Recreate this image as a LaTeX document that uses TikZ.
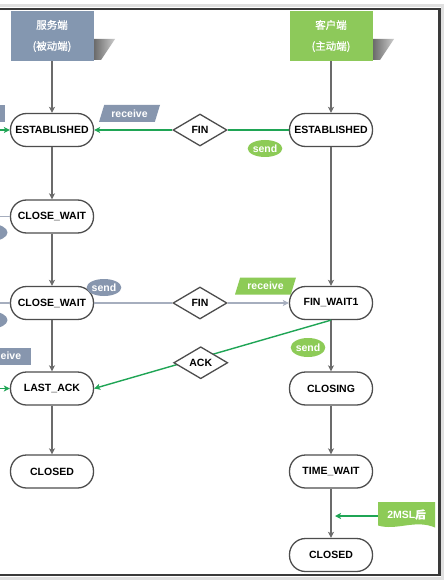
\documentclass[tikz,border=0pt]{standalone}
\usepackage{fontspec}
\setmainfont{Liberation Sans}
\newfontfamily\cjk{Noto Sans CJK SC}
\newfontfamily\cjkb{Noto Sans CJK SC}[FakeBold=1.2]
\usetikzlibrary{shapes.geometric,arrows.meta}
\definecolor{stroke}{HTML}{4D4D4D}
\definecolor{arrowgray}{HTML}{6B6B6B}
\definecolor{headgray}{HTML}{8497B0}
\definecolor{headgreen}{HTML}{8DC95A}
\definecolor{taggray}{HTML}{8796AE}
\definecolor{taggreen}{HTML}{8DCB57}
\definecolor{greenline}{HTML}{1FA555}
\definecolor{lightline}{HTML}{A6AEBE}
\definecolor{framecol}{HTML}{3A3A3A}
\tikzset{
  state/.style={draw=stroke, line width=1.3pt, fill=white, rectangle, rounded corners=16pt,
    minimum width=83pt, minimum height=33pt, inner sep=0pt, font=\bfseries\fontsize{10.5}{12}\selectfont},
  hdr/.style={rectangle, minimum width=83pt, minimum height=50pt, inner sep=0pt, text=white,
    align=center, font=\cjkb\fontsize{10.5}{21}\selectfont},
  dia/.style={diamond, draw=stroke, line width=1.3pt, fill=white, minimum width=54pt,
    minimum height=32pt, inner sep=0pt, aspect=1.7, font=\bfseries\fontsize{10.5}{12}\selectfont},
  tag/.style={trapezium, trapezium left angle=56, trapezium right angle=124,
    trapezium stretches body, minimum width=61pt, minimum height=17pt, inner sep=0pt,
    text=white, font=\bfseries\fontsize{10.5}{12}\selectfont},
  pill/.style={ellipse, minimum width=33pt, minimum height=17pt, inner sep=0pt, text=white,
    font=\bfseries\fontsize{10.5}{12}\selectfont},
  tip/.style={-{Stealth[length=6pt,width=6pt,inset=1.5pt]}},
  flow/.style={draw=arrowgray, line width=1.5pt, tip},
  gline/.style={draw=greenline, line width=1.4pt},
  lline/.style={draw=lightline, line width=1.4pt},
}
\begin{document}
\begin{tikzpicture}[x=1pt,y=-1pt]
\path[use as bounding box] (0,0) rectangle (446,580);
\begin{scope}
\clip (0,0) rectangle (446,580);
\fill[white] (0,0) rectangle (446,580);

% frame shadow and frame
\draw[black!12, line width=3pt] (-5,6) -- (442.5,6) -- (442.5,578.5) -- (-5,578.5);
\draw[framecol, line width=2.6pt] (-5,9) -- (439.5,9) -- (439.5,575) -- (-5,575);

% header shadows
\shade[left color=black!60, right color=black!20] (93,39) -- (115,39) -- (101,60) -- (93,60) -- cycle;
\shade[left color=black!60, right color=black!20] (372,39) -- (394,39) -- (380,60) -- (372,60) -- cycle;

% headers
\node[hdr, fill=headgray] (srv) at (52,36) {服务端\\(被动端)};
\node[hdr, fill=headgreen] (cli) at (331,36) {客户端\\(主动端)};

% server states
\node[state] (L1) at (52,130) {ESTABLISHED};
\node[state] (L2) at (52,216.5) {CLOSE\_WAIT};
\node[state] (L3) at (52,303) {CLOSE\_WAIT};
\node[state] (L4) at (52,388.5) {LAST\_ACK};
\node[state] (L5) at (52,471.5) {CLOSED};

% client states
\node[state] (R1) at (331,130) {ESTABLISHED};
\node[state] (R2) at (331,303) {FIN\_WAIT1};
\node[state] (R3) at (331,388.5) {CLOSING};
\node[state] (R4) at (331,471.5) {TIME\_WAIT};
\node[state] (R5) at (331,555) {CLOSED};

% vertical flows
\draw[flow] (srv) -- (L1);
\draw[flow] (L1) -- (L2);
\draw[flow] (L2) -- (L3);
\draw[flow] (L3) -- (L4);
\draw[flow] (L4) -- (L5);
\draw[flow] (cli) -- (R1);
\draw[flow] (R1) -- (R2);
\draw[flow] (R2) -- (R3);
\draw[flow] (R3) -- (R4);
\draw[flow] (R4) -- (R5);

% FIN (client -> server)
\node[dia] (fin1) at (200,130) {FIN};
\draw[gline] (R1) -- (fin1);
\draw[gline, tip] (fin1) -- (L1);

% FIN (server -> client)
\node[dia] (fin2) at (200,303) {FIN};
\draw[lline] (L3) -- (fin2);
\draw[lline, tip] (fin2) -- (R2);

% ACK
\draw[gline, tip] (R2.south) -- node[dia, pos=0.55, yshift=-5pt] (ack) {ACK} (L4.east);

% labels
\node[tag, fill=taggray] (rcv1) at (129.5,113.5) {receive};
\node[pill, fill=taggreen] (snd1) at (265,148.5) {send};
\node[pill, fill=taggray] (snd2) at (104,287.5) {send};
\node[tag, fill=taggreen] (rcv2) at (265.5,286) {receive};
\node[pill, fill=taggreen, minimum height=19pt] (snd3) at (308,347.5) {send};

% partial elements at the left edge
\node[tag, fill=taggray] (rcv0) at (-25.5,113.5) {};
\node[pill, fill=taggray] (snd0a) at (-9,232.5) {};
\node[pill, fill=taggray] (snd0b) at (-9,320) {};
\node[tag, fill=taggray] (rcv0b) at (0,356) {};
\node[text=white, font=\bfseries\fontsize{10.5}{12}\selectfont, inner sep=0pt, anchor=west]
  (rcv0t) at (0.5,356) {eive};
\coordinate (e1) at (-5,130);
\coordinate (e2) at (-5,216.5);
\coordinate (e3) at (-5,303);
\coordinate (e4) at (-5,388.5);
\draw[gline, tip] (e1) -- (L1);
\draw[lline] (e2) -- (L2);
\draw[lline] (e3) -- (L3);
\draw[gline, tip] (e4) -- (L4);

% 2MSL tag
\fill[taggreen] (378,502) -- (435,502) -- (435,527.5)
  .. controls (415,519) and (397,531) .. (378,525.5) -- cycle;
\node[text=white, font=\bfseries\fontsize{10.5}{12}\selectfont, minimum width=57pt,
  minimum height=24pt, inner sep=0pt] (msl) at (406.5,514.5) {2MSL\cjkb 后};
\coordinate (mslend) at (335,516);
\draw[gline, tip] (msl.west |- mslend) -- (mslend);
\end{scope}
\end{tikzpicture}
\end{document}
